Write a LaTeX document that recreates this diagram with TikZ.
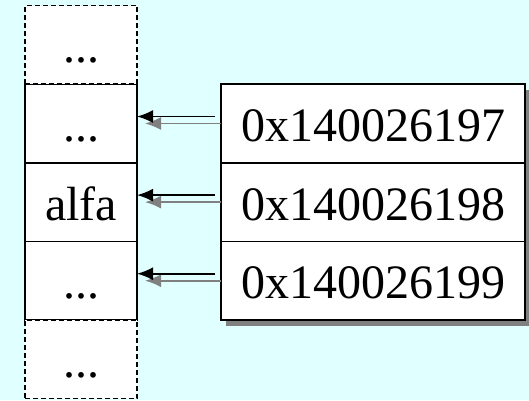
\documentclass[tikz,border=0pt]{standalone}
\usepackage{fontspec}
\setmainfont{Liberation Serif}
\usetikzlibrary{arrows.meta,shadows}
\definecolor{bgcyan}{HTML}{E0FFFF}
\definecolor{shadowgray}{HTML}{808080}
\tikzset{
  cell/.style={draw=black, fill=white, line width=1.6pt, inner sep=0pt, outer sep=0pt,
    minimum width=112pt, minimum height=78.6pt, text height=36pt, text depth=0pt,
    font=\fontsize{48}{50}\selectfont},
  dcell/.style={cell, dash pattern=on 5pt off 3pt},
  addr/.style={cell, minimum width=304pt,
    drop shadow={shadow xshift=5pt, shadow yshift=-6pt, fill=shadowgray, opacity=1}},
  ptr/.style={-{Latex[length=16pt,width=13pt]}, line width=1.8pt, black, shorten <=6pt},
  ptrshadow/.style={-{Latex[length=16pt,width=13pt]}, line width=1.8pt, shadowgray, shorten >=8pt}
}
\begin{document}
\begin{tikzpicture}[x=1pt,y=-1pt]
\fill[bgcyan] (0,0) rectangle (529,400);
\useasboundingbox (0,0) rectangle (529,400);
% memory column
\node[cell] (L2) at (81,123.5) {...};
\node[cell] (L3) at (81,202.1) {alfa};
\node[cell] (L4) at (81,280.7) {...};
\node[dcell] (L1) at (81,44.9) {...};
\node[dcell] (L5) at (81,359.3) {...};
% address box
\node[addr] (R1) at (373,123.5) {0x140026197};
\node[addr] (R2) at (373,202.1) {0x140026198};
\node[addr] (R3) at (373,280.7) {0x140026199};
% pointers
\foreach \r/\l in {R1/L2,R2/L3,R3/L4}{
  \draw[ptrshadow] (\r.west) -- (\r.west -| \l.east);
  \draw[ptr] ([yshift=7pt]\r.west) -- ([yshift=7pt]\r.west -| \l.east);
}
\end{tikzpicture}
\end{document}
